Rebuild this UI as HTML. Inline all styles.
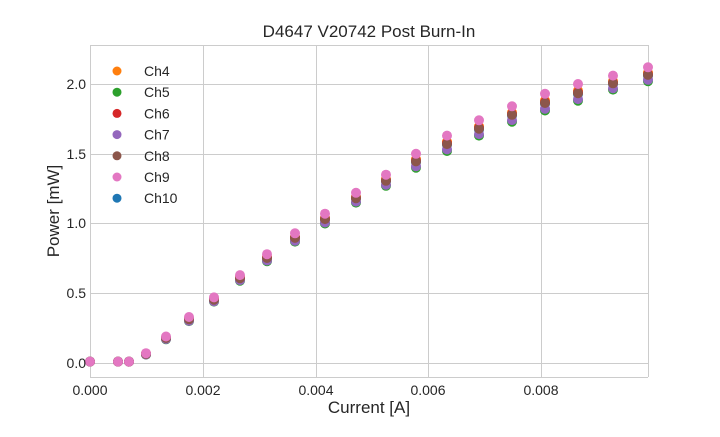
<!DOCTYPE html>
<html><head><style>
body{margin:0;background:#fff;}
svg text{font-family:"Liberation Sans",sans-serif;fill:#262626;}
</style></head><body>
<svg id="s" width="720" height="432" xmlns="http://www.w3.org/2000/svg">
<rect x="0" y="0" width="720" height="432" fill="#fff"/>
<g stroke="#cccccc" stroke-width="1">
<line x1="90.5" y1="45" x2="90.5" y2="377"/>
<line x1="203.5" y1="45" x2="203.5" y2="377"/>
<line x1="316.5" y1="45" x2="316.5" y2="377"/>
<line x1="428.5" y1="45" x2="428.5" y2="377"/>
<line x1="541.5" y1="45" x2="541.5" y2="377"/>
<line x1="648.5" y1="45" x2="648.5" y2="377"/>
<line x1="90" y1="363.5" x2="648" y2="363.5"/>
<line x1="90" y1="293.5" x2="648" y2="293.5"/>
<line x1="90" y1="223.5" x2="648" y2="223.5"/>
<line x1="90" y1="154.5" x2="648" y2="154.5"/>
<line x1="90" y1="84.5" x2="648" y2="84.5"/>
<line x1="90" y1="45.5" x2="648" y2="45.5"/>
<line x1="90" y1="377.5" x2="648" y2="377.5"/>
</g>
<g id="pts"></g>
<g font-size="14">
<text x="90" y="395" text-anchor="middle">0.000</text>
<text x="203" y="395" text-anchor="middle">0.002</text>
<text x="316" y="395" text-anchor="middle">0.004</text>
<text x="428" y="395" text-anchor="middle">0.006</text>
<text x="541" y="395" text-anchor="middle">0.008</text>
<text x="86" y="368" text-anchor="end">0.0</text>
<text x="86" y="298" text-anchor="end">0.5</text>
<text x="86" y="228" text-anchor="end">1.0</text>
<text x="86" y="159" text-anchor="end">1.5</text>
<text x="86" y="89" text-anchor="end">2.0</text>
</g>
<text x="369" y="413" font-size="17" text-anchor="middle">Current [A]</text>
<text x="59" y="211" font-size="17" text-anchor="middle" transform="rotate(-90 59 211)">Power [mW]</text>
<text x="369" y="37" font-size="17" text-anchor="middle">D4647 V20742 Post Burn-In</text>
<g id="leg" font-size="14"></g>
</svg>
<script>
var xs=[90,118,129,146,166,189,214,240,267,295,325,356,386,416,447,479,512,545,578,613,648];
var lo=[0.01,0.01,0.01,0.06,0.17,0.30,0.44,0.59,0.73,0.87,1.00,1.15,1.27,1.40,1.52,1.63,1.73,1.81,1.88,1.96,2.02];
var hi=[0.01,0.01,0.01,0.07,0.19,0.33,0.47,0.63,0.78,0.93,1.07,1.22,1.35,1.50,1.63,1.74,1.84,1.93,2.00,2.06,2.12];
var ch=[["Ch4","#ff7f0e",0.6],["Ch5","#2ca02c",0],["Ch6","#d62728",0.5],["Ch7","#9467bd",0.1],["Ch8","#8c564b",0.45],["Ch9","#e377c2",1],["Ch10","#1f77b4",0.4]];
var order=[6,0,1,2,3,4,5];var h="";
order.forEach(function(i){var c=ch[i];for(var k=0;k<xs.length;k++){var v=lo[k]+(hi[k]-lo[k])*c[2];var y=363-v*139.5;h+='<circle cx="'+xs[k]+'" cy="'+y.toFixed(1)+'" r="5" fill="'+c[1]+'"/>';}});
document.getElementById("pts").innerHTML=h;
var l="";ch.forEach(function(c,i){var y=71+i*21.2;l+='<circle cx="117" cy="'+y+'" r="4.5" fill="'+c[1]+'"/><text x="144" y="'+(y+5)+'">'+c[0]+'</text>';});
document.getElementById("leg").innerHTML=l;
</script>
</body></html>
